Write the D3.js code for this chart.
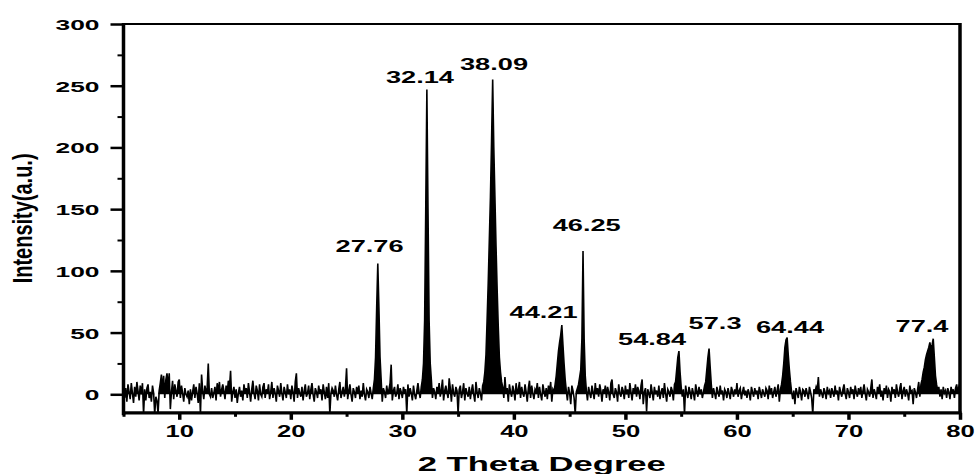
<!DOCTYPE html>
<html><head><meta charset="utf-8">
<script src="https://cdn.jsdelivr.net/npm/d3@7"></script>
<style>
body{margin:0;background:#fff;}
svg{display:block;}
text{font-family:"Liberation Sans",Arial,sans-serif;font-weight:bold;fill:#000;}
</style>
</head><body>
<svg id="c" width="976" height="474"></svg>
<script>
// 2θ sampling of the scan (degrees)
const thetaStart = 5;
const thetaStep = 0.1;
// Intensity (a.u.), one row per degree, 5.0 .. 80.0
const intensity = [
 18,-3,5,-6,8,2,-4,9,1,-7,
 6,-2,10,3,-5,7,0,9,-16,4,
 -5,5,8,-3,2,-6,7,1,-16,-2,
 -5,-16,3,9,16,4,15,-3,12,17,
 6,17,-12,2,11,-4,8,3,-2,10,
 12,-3,7,1,-6,5,0,-2,3,-8,
 4,-5,2,8,-3,6,1,-7,9,-16,
 16,3,-4,7,2,5,25,0,-2,5,
 -3,1,6,-5,9,2,10,-2,4,8,
 3,-4,7,1,11,5,19,-6,2,6,
 -3,4,-7,1,6,-2,3,-5,8,2,
 5,-3,9,2,-6,4,11,1,-4,7,
 3,-5,8,0,-2,6,9,-3,4,1,
 8,-4,2,10,-3,5,1,-6,7,3,
 -2,9,1,-5,6,2,-3,8,0,4,
 -4,7,2,-6,10,17,-3,5,1,-2,
 6,-5,3,8,-2,1,7,-4,4,9,
 0,-6,5,2,-3,7,1,4,-5,8,
 2,-4,6,-3,9,-16,1,5,3,-2,
 7,0,-5,4,10,-3,2,6,-2,5,
 21,-4,3,8,0,-6,5,2,-3,6,
 1,7,-4,3,-2,9,0,-5,4,2,
 -3,6,1,-4,5,12,30,70,106,70,
 30,12,-6,5,2,-3,7,0,4,9,
 24,-5,3,6,-2,1,8,-4,5,2,
 -3,6,2,4,-16,8,-2,5,1,-5,
 7,0,-4,3,9,2,-3,6,12,25,
 60,150,247,150,60,25,12,-3,5,2,
 -4,6,1,9,-2,4,12,-5,3,7,
 2,-3,13,5,-6,8,1,-2,6,3,
 -16,4,7,-3,2,9,-5,5,1,-2,
 6,-4,3,8,0,-6,10,2,-3,5,
 1,-5,7,10,18,32,60,90,125,160,
 205,255,200,160,120,85,55,30,18,10,
 6,-3,14,1,5,-6,8,2,-2,7,
 3,-5,9,0,4,10,-3,6,1,-2,
 8,2,-6,5,11,-3,7,1,-4,4,
 2,9,-3,6,0,-5,8,3,-2,5,
 -4,7,1,10,-6,4,2,8,15,25,
 35,42,48,56,40,25,12,3,-5,6,
 1,-8,7,3,-3,-16,2,5,8,14,
 20,45,116,45,15,3,-5,6,1,-3,
 7,2,-4,9,0,5,-2,8,3,-6,
 4,1,7,-3,6,2,-5,9,12,0,
 -3,5,2,-6,8,1,-2,6,3,-4,
 7,0,4,-3,9,2,-5,5,1,8,
 -2,6,3,-4,7,12,-8,2,5,-14,
 4,1,-3,8,2,-5,6,0,3,-2,
 7,-4,2,5,-3,9,1,-6,4,2,
 -2,6,3,-5,8,10,20,30,35,18,
 6,-2,4,-16,7,1,-3,6,2,-4,
 5,1,-5,8,3,-2,6,0,4,-3,
 2,7,10,20,30,37,22,8,-3,5,
 1,-4,6,2,-2,7,0,3,-5,4,
 2,-3,5,1,-4,6,3,-2,4,0,
 9,-2,3,5,-4,2,6,-1,3,-3,
 4,1,-5,6,2,-2,5,0,3,-4,
 6,2,-3,4,1,-2,5,3,-4,7,
 0,5,-3,2,6,-2,3,8,-6,4,
 8,15,25,38,44,46,32,20,10,2,
 -4,3,-8,5,1,-3,6,2,-5,4,
 3,-2,5,1,-4,6,2,-3,-16,4,
 2,6,3,14,-2,4,1,-3,5,2,
 -4,6,1,3,-3,5,2,-2,7,0,
 3,-5,6,2,-2,4,8,1,-4,5,
 2,-3,6,1,4,-4,7,2,-2,5,
 0,6,-3,3,8,1,-5,4,2,-2,
 5,12,-3,4,1,-4,6,2,8,-2,
 3,-5,5,1,7,-3,4,2,-6,6,
 1,4,-3,8,2,-2,5,9,-4,3,
 6,-2,4,1,-5,7,2,3,-8,5,
 2,-3,4,10,-2,8,12,18,22,28,
 32,35,38,42,36,40,45,30,15,8,
 3,6,-2,4,-4,6,1,3,-3,5,
 2,-4,6,1,4,-3,5,8,2,6,
 3
];
const xTicks = [10,20,30,40,50,60,70,80];
const xMinorTicks = [5,15,25,35,45,55,65,75];
const yTicks = [0,50,100,150,200,250,300];
const yMinorTicks = [25,75,125,175,225,275];
const peakLabels = ["27.76","32.14","38.09","44.21","46.25","54.84","57.3","64.44","77.4"];
// label anchors in data units (2θ, intensity)
const labelTheta = [27.06,31.58,38.22,42.66,46.53,52.39,58.04,64.76,76.59];
const labelIntensity = [115.3,252.0,262.7,61.8,132.5,39.9,52.9,49.9,50.2];
const xTitle = "2 Theta Degree";
const yTitle = "Intensity(a.u.)";

const svg = d3.select("#c");
const L = 123.5, R = 960, T = 24, B = 412.8;
const x = d3.scaleLinear().domain([5,80]).range([L,R]);
const y = d3.scaleLinear().domain([-15,300]).range([B,T]);

svg.append("rect").attr("width",976).attr("height",474).attr("fill","#fff");

svg.append("clipPath").attr("id","clip").append("rect")
  .attr("x",L).attr("y",T).attr("width",R-L).attr("height",B-T);

const xi = (d,i)=>x(thetaStart + i*thetaStep);
const area = d3.area().x(xi).y0(y(0)).y1(d=>y(Math.max(d,0)));
const line = d3.line().x(xi).y(d=>y(d));
const plot = svg.append("g").attr("clip-path","url(#clip)");
plot.append("path").datum(intensity).attr("d",area).attr("fill","#000");
plot.append("path").datum(intensity)
  .attr("d",line).attr("fill","none").attr("stroke","#000")
  .attr("stroke-width",1.6).attr("stroke-linejoin","miter");

// axes
function styleAxis(g, w){
  g.select(".domain").remove();
  g.selectAll(".tick line").attr("stroke","#000").attr("stroke-width",w);
}
const gyMinor = svg.append("g").attr("transform",`translate(${L},0)`)
  .call(d3.axisLeft(y).tickValues(yMinorTicks).tickSize(6).tickFormat(""));
styleAxis(gyMinor,2);
const gy = svg.append("g").attr("transform",`translate(${L},0)`)
  .call(d3.axisLeft(y).tickValues(yTicks).tickSize(13).tickFormat(d3.format("d")));
styleAxis(gy,2.5);
gy.selectAll(".tick text")
  .attr("x",null).attr("dy",null)
  .attr("text-anchor","end")
  .attr("transform","translate(-24,5.5) scale(1.7,1)")
  .style("font-size","15.5px").style("font-family",null);

const gxMinor = svg.append("g").attr("transform",`translate(0,${B})`)
  .call(d3.axisBottom(x).tickValues(xMinorTicks).tickSize(4).tickFormat(""));
styleAxis(gxMinor,3);
const gx = svg.append("g").attr("transform",`translate(0,${B})`)
  .call(d3.axisBottom(x).tickValues(xTicks).tickSize(7).tickFormat(d3.format("d")));
styleAxis(gx,3.5);
gx.selectAll(".tick text")
  .attr("y",null).attr("dy",null)
  .attr("text-anchor","middle")
  .attr("transform","translate(0,24) scale(1.6,1)")
  .style("font-size","16px").style("font-family",null);

// frame
svg.append("line").attr("x1",L).attr("x2",R).attr("y1",T).attr("y2",T)
  .attr("stroke","#000").attr("stroke-width",2.2);
svg.append("line").attr("x1",R).attr("x2",R).attr("y1",T-1).attr("y2",B+1)
  .attr("stroke","#000").attr("stroke-width",3.5);
svg.append("line").attr("x1",L).attr("x2",R+1.5).attr("y1",B).attr("y2",B)
  .attr("stroke","#000").attr("stroke-width",3.2);
svg.append("line").attr("x1",L).attr("x2",L).attr("y1",T-1).attr("y2",B+2.5)
  .attr("stroke","#000").attr("stroke-width",3.5);

// peak labels
svg.append("g").selectAll("text").data(peakLabels).join("text")
  .attr("text-anchor","middle")
  .attr("transform",(d,i)=>`translate(${x(labelTheta[i])},${y(labelIntensity[i])}) scale(1.6,1)`)
  .style("font-size","17px")
  .text(d=>d);

// axis titles
svg.append("text").attr("text-anchor","middle")
  .attr("transform",`translate(${(L+R)/2},471) scale(1.65,1)`)
  .style("font-size","21px").text(xTitle);
svg.append("text").attr("text-anchor","middle")
  .attr("transform",`translate(32,${(T+B)/2}) scale(1.35,1) rotate(-90)`)
  .style("font-size","20px").text(yTitle);
</script>
</body></html>
